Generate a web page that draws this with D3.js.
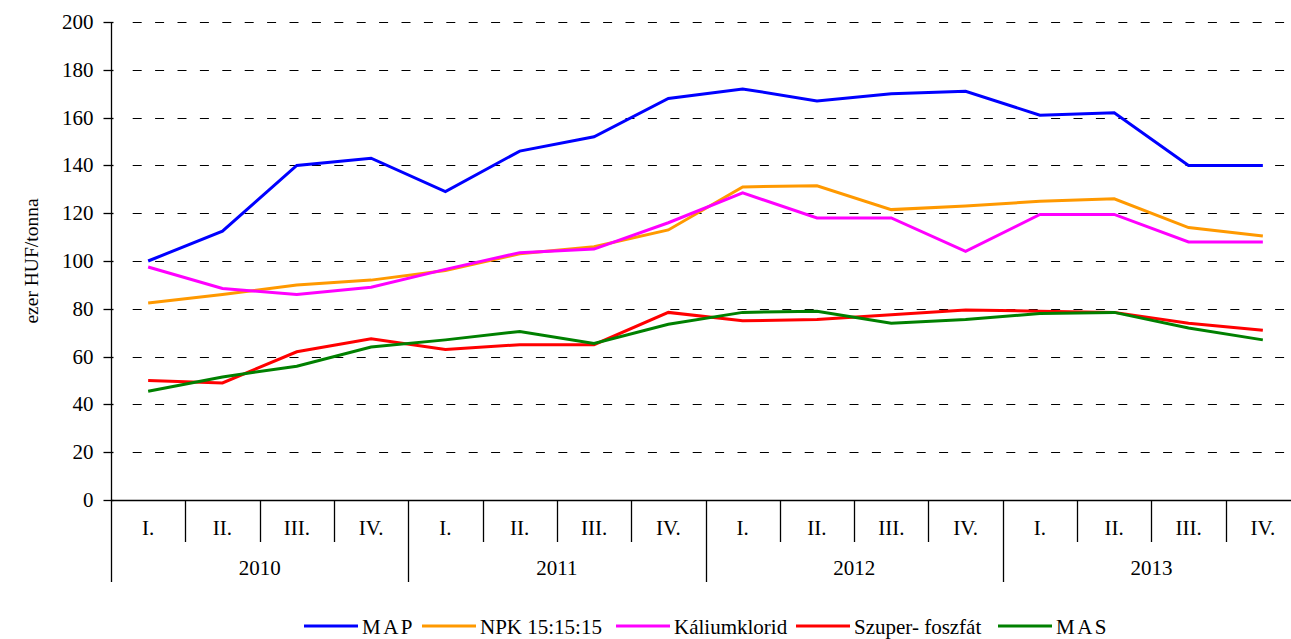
<!DOCTYPE html>
<html><head><meta charset="utf-8">
<script src="https://cdn.jsdelivr.net/npm/d3@7"></script>
<style>
body{margin:0;background:#fff;}
svg text{font-family:"Liberation Serif","Times New Roman",serif;fill:#000;}
</style></head>
<body><svg id="c" width="1291" height="639"></svg>
<script>
const years = ["2010","2011","2012","2013"];
const quarters = ["I.","II.","III.","IV."];
const yTicks = [0,20,40,60,80,100,120,140,160,180,200];
const seriesNames = ["MAP","NPK 15:15:15","Káliumklorid","Szuper- foszfát","MAS"];
const seriesColors = ["#0000ff","#ff9900","#ff00ff","#ff0000","#008000"];
const mapVals = [100,112.5,140,143,129,146,152,168,172,167,170,171,161,162,140,140];
const npkVals = [82.4,86,90,92,96,103,106,113,131,131.5,121.5,123,125,126,114,110.5];
const kalVals = [97.5,88.5,86,89,96.5,103.5,105,116,128.5,118,118,104,119.5,119.5,108,108];
const szfVals = [50,49,62,67.5,63,65,65,78.5,75,75.5,77.5,79.5,79,78.5,74,71];
const masVals = [45.5,51.5,56,64,67,70.5,65.5,73.5,78.5,79,74,75.5,78,78.5,72,67];
const allVals = [mapVals,npkVals,kalVals,szfVals,masVals];

const svg = d3.select("#c");
const L = 111, R = 1300, T = 22, B = 500;
const FS = 21;
const cats = [];
years.forEach(y => quarters.forEach(q => cats.push(y + "-" + q)));
const x = d3.scaleBand().domain(cats).range([L, R]);
const y = d3.scaleLinear().domain([0, 200]).range([B, T]);

// grid
svg.append("g").selectAll("line").data(yTicks.filter(d => d > 0)).join("line")
  .attr("x1", L + 9).attr("x2", 1291)
  .attr("y1", d => Math.round(y(d)) + 0.5).attr("y2", d => Math.round(y(d)) + 0.5)
  .attr("stroke", "#000").attr("stroke-width", 1)
  .attr("stroke-dasharray", "9,13.4").attr("stroke-dashoffset", 9.7);

// y axis
const yAxis = svg.append("g").attr("transform", `translate(${L + 0.5},0)`)
  .call(d3.axisLeft(y).tickValues(yTicks).tickSize(8).tickPadding(10).tickFormat(d3.format("d")));
yAxis.attr("font-family", null).attr("font-size", null);
yAxis.select(".domain").remove();
yAxis.selectAll(".tick line").attr("stroke", "#000").attr("x2", -8).attr("x1", 2).attr("stroke-width", 1.3);
yAxis.selectAll(".tick text").attr("font-size", FS).attr("dy", "0.33em");
yAxis.selectAll(".tick").attr("transform", d => `translate(0,${Math.round(y(d)) + 0.5})`);
svg.append("line").attr("x1", L + 0.5).attr("x2", L + 0.5).attr("y1", T).attr("y2", 582)
  .attr("stroke", "#000").attr("stroke-width", 1.3);

// x axis baseline
svg.append("line").attr("x1", L).attr("x2", 1291).attr("y1", B + 0.5).attr("y2", B + 0.5)
  .attr("stroke", "#000").attr("stroke-width", 1.3);

// quarter separators and labels
const g = svg.append("g");
cats.forEach((c, i) => {
  const xs = x(c) + x.bandwidth();
  const isYear = (i % 4) === 3;
  g.append("line").attr("x1", Math.round(xs) + 0.5).attr("x2", Math.round(xs) + 0.5)
    .attr("y1", B).attr("y2", isYear ? 582 : 542).attr("stroke", "#000").attr("stroke-width", 1.3);
  g.append("text").attr("x", x(c) + x.bandwidth() / 2).attr("y", 535)
    .attr("text-anchor", "middle").attr("font-size", FS).text(quarters[i % 4]);
});
years.forEach((yr, j) => {
  const x0 = x(yr + "-I."), x1 = x(yr + "-IV.") + x.bandwidth();
  g.append("text").attr("x", (x0 + x1) / 2).attr("y", 575)
    .attr("text-anchor", "middle").attr("font-size", FS).text(yr);
});

// y title
svg.append("text").attr("transform", "translate(38,261) rotate(-90)")
  .attr("text-anchor", "middle").attr("font-size", 19.5).text("ezer HUF/tonna");

// lines
const line = d3.line().x((d, i) => x(cats[i]) + x.bandwidth() / 2).y(d => y(d));
allVals.forEach((vals, k) => {
  svg.append("path").datum(vals).attr("d", line).attr("fill", "none")
    .attr("stroke", seriesColors[k]).attr("stroke-width", 3).attr("stroke-linejoin", "miter");
});

// legend
const legX = [304, 422, 616, 796, 998];
const lg = svg.append("g");
seriesNames.forEach((n, k) => {
  lg.append("line").attr("x1", legX[k]).attr("x2", legX[k] + 54).attr("y1", 626).attr("y2", 626)
    .attr("stroke", seriesColors[k]).attr("stroke-width", 3);
  lg.append("text").attr("x", legX[k] + 58).attr("y", 634).attr("font-size", FS)
    .attr("letter-spacing", (n === "MAP" || n === "MAS") ? 2.5 : 0).text(n);
});
</script></body></html>
